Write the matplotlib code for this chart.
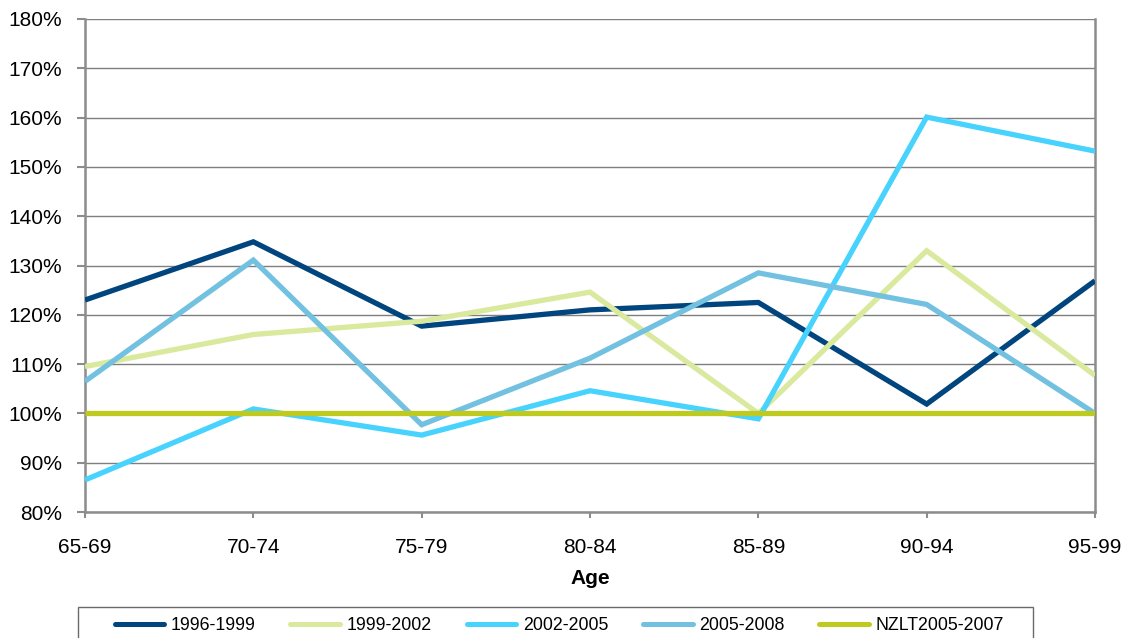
import numpy as np
import matplotlib.pyplot as plt
from matplotlib.patches import Rectangle
from matplotlib.ticker import FuncFormatter

plt.rcParams['font.family'] = ['Liberation Sans', 'DejaVu Sans']

# age bands and ratios (% of NZLT 2005-2007)
ages = ['65-69', '70-74', '75-79', '80-84', '85-89', '90-94', '95-99']
r_1996_1999 = [123.0, 134.8, 117.7, 121.0, 122.5, 101.9, 126.9]
r_1999_2002 = [109.5, 116.0, 118.7, 124.6, 100.0, 133.0, 107.7]
r_2002_2005 = [86.5, 100.9, 95.6, 104.6, 98.9, 160.1, 153.2]
r_2005_2008 = [106.5, 131.1, 97.7, 111.2, 128.5, 122.1, 100.0]
r_nzlt = [100.0, 100.0, 100.0, 100.0, 100.0, 100.0, 100.0]

series = [
    ('1996-1999', r_1996_1999, '#00457E'),
    ('1999-2002', r_1999_2002, '#D9E99D'),
    ('2002-2005', r_2002_2005, '#47D3FD'),
    ('2005-2008', r_2005_2008, '#72C1E0'),
    ('NZLT2005-2007', r_nzlt, '#BFCA1E'),
]

W, H = 1133, 638
fig = plt.figure(figsize=(W / 100, H / 100), dpi=100)
ax = fig.add_axes([85 / W, 1 - 512 / H, 1010 / W, 493 / H])

x = np.arange(len(ages))
for name, vals, col in series:
    ax.plot(x, vals, color=col, lw=3.8, label=name, solid_joinstyle='miter',
            solid_capstyle='butt', zorder=3)

ax.set_xlim(0, len(ages) - 1)
ax.set_ylim(80, 180)
ax.set_yticks(np.arange(80, 181, 10))
ax.yaxis.set_major_formatter(FuncFormatter(lambda v, p: f'{v:.0f}%'))
ax.set_xticks(x)
ax.set_xticklabels(ages)

ax.grid(axis='y', color='#7f7f7f', lw=1.0, zorder=1)
ax.set_axisbelow(True)
for side in ['left', 'right', 'bottom']:
    ax.spines[side].set_color('#8c8c8c')
    ax.spines[side].set_linewidth(1.8)
ax.spines['top'].set_visible(False)
ax.tick_params(axis='y', length=5.5, width=1.5, color='#8c8c8c', labelsize=15, pad=11)
ax.tick_params(axis='x', length=4, width=1.5, color='#8c8c8c', labelsize=15, pad=15)
ax.set_xlabel('Age', fontsize=15, fontweight='bold', labelpad=8)

# legend box drawn separately so the entries can sit inside a wide frame
fig.add_artist(Rectangle((78 / W, 1 - 645 / H), 955 / W, 38 / H, transform=fig.transFigure,
                         facecolor='white', edgecolor='#6a6a6a', lw=1.0, zorder=5))
fs = 12.8
leg = fig.legend(loc='center left', bbox_to_anchor=(114.5 / W, 1 - 625.5 / H),
                 ncol=5, fontsize=fs, frameon=False, handlelength=2.8,
                 handletextpad=0.37, columnspacing=1.95,
                 borderaxespad=0, borderpad=0)
leg.set_zorder(6)
for h in leg.get_lines():
    h.set_linewidth(3.6)
    h.set_solid_capstyle('round')

fig.savefig('out.png', dpi=100)
